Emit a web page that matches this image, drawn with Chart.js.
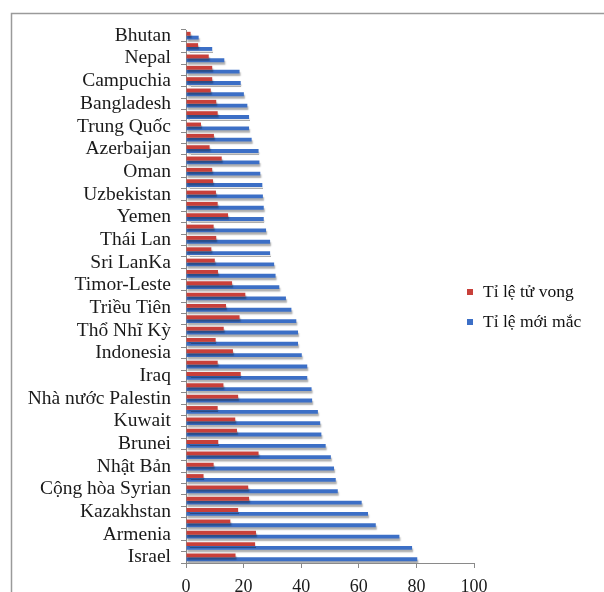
<!DOCTYPE html>
<html>
<head>
<meta charset="utf-8">
<script src="https://cdn.jsdelivr.net/npm/chart.js@4.4.1/dist/chart.umd.min.js"></script>
<style>
  html, body { margin: 0; padding: 0; background: #fff; overflow: hidden; }
  #wrap { position: relative; width: 604px; height: 592px; }
</style>
</head>
<body>
<div id="wrap"><canvas id="c"></canvas></div>
<script>
  // Tên nước (chỉ hiện một nhãn cho mỗi hai nhóm, như hình gốc)
  const categories = [
    'Bhutan', '', 'Nepal', '', 'Campuchia', '', 'Bangladesh', '', 'Trung Quốc', '',
    'Azerbaijan', '', 'Oman', '', 'Uzbekistan', '', 'Yemen', '', 'Thái Lan', '',
    'Sri LanKa', '', 'Timor-Leste', '', 'Triều Tiên', '', 'Thổ Nhĩ Kỳ', '', 'Indonesia', '',
    'Iraq', '', 'Nhà nước Palestin', '', 'Kuwait', '', 'Brunei', '', 'Nhật Bản', '',
    'Cộng hòa Syrian', '', 'Kazakhstan', '', 'Armenia', '', 'Israel'
  ];

  // Tỉ lệ tử vong
  const mortality = [
    1.6, 4.2, 7.9, 9.1, 9.1, 8.6, 10.5, 11.0, 5.2, 9.7,
    8.2, 12.4, 9.1, 9.4, 10.4, 11.0, 14.6, 9.6, 10.5, 8.8,
    10.0, 11.1, 16.0, 20.6, 13.9, 18.6, 13.1, 10.3, 16.3, 11.0,
    19.0, 13.0, 18.1, 11.0, 17.1, 17.7, 11.2, 25.2, 9.6, 6.1,
    21.6, 21.9, 18.1, 15.4, 24.3, 24.0, 17.2
  ];

  // Tỉ lệ mới mắc
  const incidence = [
    4.4, 9.1, 13.3, 18.6, 19.0, 20.1, 21.3, 21.9, 21.9, 22.8,
    25.2, 25.5, 25.8, 26.5, 26.7, 27.0, 27.0, 27.8, 29.2, 29.2,
    30.6, 31.1, 32.4, 34.7, 36.6, 38.3, 38.9, 38.9, 40.2, 42.1,
    42.1, 43.6, 43.8, 45.8, 46.6, 47.0, 48.5, 50.3, 51.4, 52.0,
    52.7, 61.0, 63.2, 65.9, 74.1, 78.5, 80.3
  ];

  const xTicks = [0, 20, 40, 60, 80, 100];

  const serif = '"Liberation Serif", "Times New Roman", serif';
  const axisGray = '#8a8a8a';

  // khung viền quanh hình
  const framePlugin = {
    id: 'frame',
    beforeDraw(chart) {
      const ctx = chart.ctx;
      ctx.save();
      ctx.strokeStyle = '#9a9a9a';
      ctx.lineWidth = 1.5;
      ctx.strokeRect(11.5, 13.5, 800, 800);
      ctx.restore();
    }
  };

  // bóng mờ dưới các thanh
  const shadowPlugin = {
    id: 'barShadow',
    beforeDatasetsDraw(chart) {
      const ctx = chart.ctx;
      ctx.save();
      ctx.shadowColor = 'rgba(0,0,0,0.32)';
      ctx.shadowOffsetX = 1;
      ctx.shadowOffsetY = 2.5;
      ctx.shadowBlur = 1.5;
    },
    afterDatasetsDraw(chart) {
      chart.ctx.restore();
    }
  };

  // chú thích bên phải
  const legendPlugin = {
    id: 'sideLegend',
    afterDraw(chart) {
      const ctx = chart.ctx;
      ctx.save();
      ctx.font = '17.5px ' + serif;
      ctx.textBaseline = 'middle';
      ctx.textAlign = 'left';
      chart.data.datasets.forEach((ds, i) => {
        const y = 292 + i * 30;
        ctx.fillStyle = ds.backgroundColor;
        ctx.fillRect(467, y - 3, 6, 6);
        ctx.fillStyle = '#111';
        ctx.fillText(ds.label, 483, y);
      });
      ctx.restore();
    }
  };

  new Chart(document.getElementById('c'), {
    type: 'bar',
    data: {
      labels: categories,
      datasets: [
        {
          label: 'Tỉ lệ tử vong',
          data: mortality,
          backgroundColor: '#c8403a',
          borderWidth: 0,
          categoryPercentage: 0.68,
          barPercentage: 1.0
        },
        {
          label: 'Tỉ lệ mới mắc',
          data: incidence,
          backgroundColor: '#3c6fc6',
          borderWidth: 0,
          categoryPercentage: 0.68,
          barPercentage: 1.0
        }
      ]
    },
    options: {
      indexAxis: 'y',
      responsive: true,
      maintainAspectRatio: false,
      animation: false,
      layout: { padding: { top: 30, right: 130, bottom: 0, left: 0 } },
      plugins: {
        legend: { display: false },
        tooltip: { enabled: false }
      },
      scales: {
        y: {
          grid: { drawOnChartArea: false, drawTicks: true, tickLength: 5, color: axisGray, offset: true },
          border: { display: true, color: axisGray, width: 1 },
          ticks: {
            autoSkip: false,
            color: '#1a1a1a',
            padding: 10,
            font: { family: serif, size: 19.5 }
          },
          afterFit(scale) { scale.width = 186; }
        },
        x: {
          min: 0,
          max: 100,
          grid: { drawOnChartArea: false, drawTicks: true, tickLength: 5, color: axisGray },
          border: { display: true, color: axisGray, width: 1 },
          afterBuildTicks(scale) { scale.ticks = xTicks.map(v => ({ value: v })); },
          ticks: {
            color: '#1a1a1a',
            padding: 8,
            font: { family: serif, size: 18 }
          },
          afterFit(scale) { scale.height = 29; }
        }
      }
    },
    plugins: [framePlugin, shadowPlugin, legendPlugin]
  });
</script>
</body>
</html>
